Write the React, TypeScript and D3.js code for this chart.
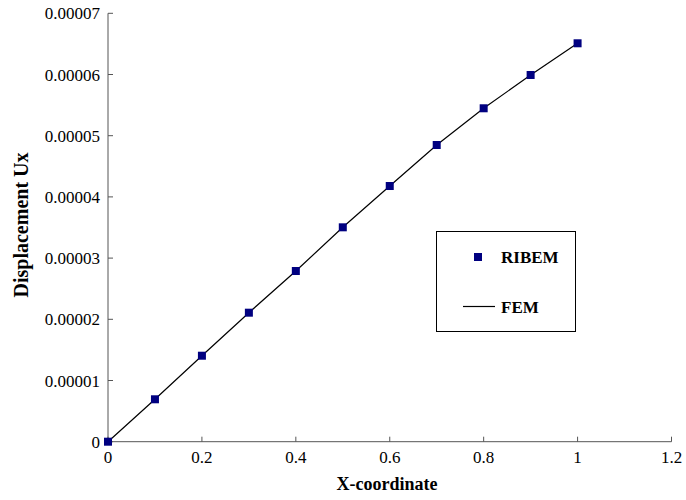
import React from "react";
import * as d3 from "d3";

const xCoords = [0, 0.1, 0.2, 0.3, 0.4, 0.5, 0.6, 0.7, 0.8, 0.9, 1.0];
const ribemUx = [0, 6.93e-6, 1.405e-5, 2.108e-5, 2.789e-5, 3.503e-5, 4.178e-5, 4.848e-5, 5.448e-5, 5.992e-5, 6.51e-5];
const femUx = [0, 6.93e-6, 1.405e-5, 2.108e-5, 2.789e-5, 3.503e-5, 4.178e-5, 4.848e-5, 5.448e-5, 5.992e-5, 6.51e-5];
const xTicks = [0, 0.2, 0.4, 0.6, 0.8, 1, 1.2];
const yTicks = [0, 0.00001, 0.00002, 0.00003, 0.00004, 0.00005, 0.00006, 0.00007];
const yTickLabels = ["0", "0.00001", "0.00002", "0.00003", "0.00004", "0.00005", "0.00006", "0.00007"];

const W = 686;
const H = 500;
const FONT = "'Liberation Serif', 'Times New Roman', serif";
const AXIS = "#555";
const MARK = "#000080";

export default function App() {
  const x = d3.scaleLinear().domain([0, 1.2]).range([108, 671.5]);
  const y = d3.scaleLinear().domain([0, 0.00007]).range([441.7, 13.3]);
  const line = d3
    .line<number>()
    .x((_, i) => x(xCoords[i]))
    .y((d) => y(d));

  return (
    <svg
      width={W}
      height={H}
      style={{ position: "absolute", left: 0, top: 0, background: "#fff" }}
      fontFamily={FONT}
    >
      {/* axes */}
      <line x1={x(0)} x2={x(0)} y1={y(0)} y2={y(0.00007)} stroke={AXIS} strokeWidth={1} />
      <line x1={x(0)} x2={x(1.2)} y1={y(0)} y2={y(0)} stroke={AXIS} strokeWidth={1} />
      {yTicks.map((t, i) => (
        <g key={"y" + i}>
          <line x1={x(0)} x2={x(0) + 5} y1={y(t)} y2={y(t)} stroke={AXIS} />
          <text x={100} y={y(t) + 6} textAnchor="end" fontSize={17} fill="#000">
            {yTickLabels[i]}
          </text>
        </g>
      ))}
      {xTicks.map((t, i) => (
        <g key={"x" + i}>
          <line x1={x(t)} x2={x(t)} y1={y(0)} y2={y(0) - 5} stroke={AXIS} />
          <text x={x(t)} y={463} textAnchor="middle" fontSize={17} fill="#000">
            {String(t)}
          </text>
        </g>
      ))}
      {/* axis titles */}
      <text x={387} y={490} textAnchor="middle" fontSize={18} fontWeight="bold" fill="#000">
        X-coordinate
      </text>
      <text
        transform={`translate(28, 225) rotate(-90)`}
        textAnchor="middle"
        fontSize={20}
        fontWeight="bold"
        fill="#000"
      >
        Displacement Ux
      </text>
      {/* FEM line */}
      <path d={line(femUx) || ""} fill="none" stroke="#000" strokeWidth={1.2} />
      {/* RIBEM markers */}
      {ribemUx.map((v, i) => (
        <rect
          key={"m" + i}
          x={x(xCoords[i]) - 4}
          y={y(v) - 4}
          width={8}
          height={8}
          fill={MARK}
        />
      ))}
      {/* legend */}
      <rect x={436.5} y={231.5} width={139} height={100} fill="#fff" stroke="#000" strokeWidth={1} />
      <rect x={474} y={253} width={8} height={8} fill={MARK} />
      <text x={501} y={263} fontSize={17} fontWeight="bold" fill="#000">
        RIBEM
      </text>
      <line x1={463} x2={495} y1={306.5} y2={306.5} stroke="#000" strokeWidth={1.2} />
      <text x={501} y={313} fontSize={17} fontWeight="bold" fill="#000">
        FEM
      </text>
    </svg>
  );
}
